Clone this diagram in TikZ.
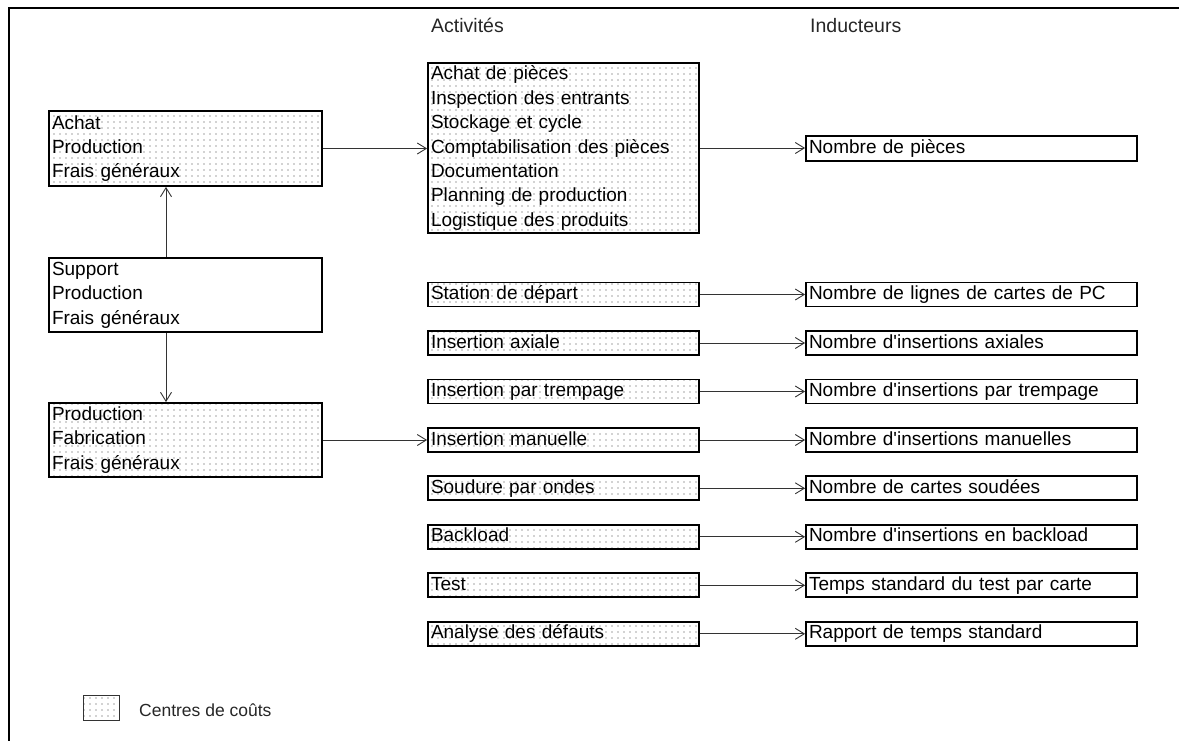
\documentclass[tikz,border=0pt]{standalone}
\usepackage{fontspec}
\setmainfont{Liberation Sans}
\usetikzlibrary{arrows.meta,patterns}
\pgfdeclarepatternformonly{sparsedots}{\pgfpoint{-1pt}{-1pt}}{\pgfpoint{1pt}{1pt}}{\pgfpoint{6pt}{6pt}}{\pgfpathcircle{\pgfpointorigin}{0.7pt}\pgfusepath{fill}}
\newcommand{\boxfont}{\fontsize{19}{24.4}\selectfont}
\newcommand{\headfont}{\fontsize{19.5}{21}\selectfont}
\newcommand{\legfont}{\fontsize{17.5}{20}\selectfont}
\tikzset{
  cbox/.style={draw=black, line width=1.8pt, font=\boxfont, inner xsep=3pt, inner ysep=0pt, align=left},
  cc/.style={pattern=sparsedots, pattern color=black!75},
  single/.style={cbox, minimum height=24pt, text height=14.5pt, text depth=4.5pt},
  actbox/.style={single, cc, minimum width=271pt, text width=265pt},
  indbox/.style={single, minimum width=331pt, text width=325pt},
  arr/.style={draw=black!80, line width=0.9pt, -{Straight Barb[length=9pt,width=11pt]}},
  head/.style={font=\headfont, text=black!85, inner sep=0pt, anchor=base west}
}
\begin{document}
\begin{tikzpicture}[x=1pt,y=-1pt]
\useasboundingbox (0,0) rectangle (1179,740);
\draw[line width=2pt] (9,741) -- (9,8) -- (1180,8);

\node[head] (hact) at (431,32) {Activités};
\node[head] (hind) at (810,32) {Inducteurs};

\node[cbox, cc, minimum width=273pt, text width=267pt, minimum height=75pt] (achat) at (185.5,148.5) {Achat\\Production\\Frais généraux};
\node[cbox, minimum width=273pt, text width=267pt, minimum height=74pt] (support) at (185.5,295) {Support\\Production\\Frais généraux};
\node[cbox, cc, minimum width=273pt, text width=267pt, minimum height=74pt] (prodfab) at (185.5,440) {Production\\Fabrication\\Frais généraux};

\node[cbox, cc, minimum width=271pt, text width=265pt, minimum height=170pt] (actbig) at (563.5,148) {Achat de pièces\\Inspection des entrants\\Stockage et cycle\\Comptabilisation des pièces\\Documentation\\Planning de production\\Logistique des produits};
\node[indbox, minimum height=25pt] (i0) at (971.5,148.5) {Nombre de pièces};

\foreach \k/\yy/\aa/\bb in {
  1/294.5/Station de départ/Nombre de lignes de cartes de PC,
  2/343/Insertion axiale/Nombre d\textquotesingle insertions axiales,
  3/391.5/Insertion par trempage/Nombre d\textquotesingle insertions par trempage,
  4/440/Insertion manuelle/Nombre d\textquotesingle insertions manuelles,
  5/488.3/Soudure par ondes/Nombre de cartes soudées,
  6/536.8/Backload/Nombre d\textquotesingle insertions en backload,
  7/585.3/Test/Temps standard du test par carte,
  8/633.8/Analyse des défauts/Rapport de temps standard}{
  \node[actbox] (a\k) at (563.5,\yy) {\aa};
  \node[indbox] (i\k) at (971.5,\yy) {\bb};
  \draw[arr] (a\k.east) -- (i\k.west);
}

\draw[arr] (achat.east) -- (achat.east -| actbig.west);
\draw[arr] (actbig.east) -- (actbig.east -| i0.west);
\draw[arr] ([xshift=-19.5pt]support.north) -- ([xshift=-19.5pt]achat.south);
\draw[arr] ([xshift=-19.5pt]support.south) -- ([xshift=-19.5pt]prodfab.north);
\draw[arr] (prodfab.east) -- (prodfab.east -| a4.west);

\node[draw=black!80, line width=0.8pt, cc, minimum width=36pt, minimum height=25pt, inner sep=0pt] (legbox) at (101,707.5) {};
\node[head, font=\legfont] (legtext) at (139,716) {Centres de coûts};
\end{tikzpicture}
\end{document}
